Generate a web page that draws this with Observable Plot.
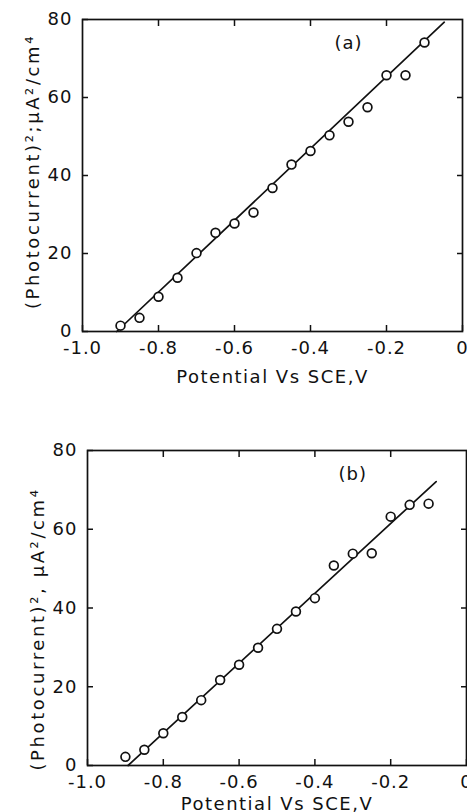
<!DOCTYPE html>
<html><head><meta charset="utf-8">
<script src="https://cdn.jsdelivr.net/npm/d3@7"></script>
<script src="https://cdn.jsdelivr.net/npm/@observablehq/plot@0.6"></script>
<style>
body{margin:0;background:#fff}
#c{width:467px;overflow:hidden}
#c svg{display:block}
</style>
</head><body><div id="c"></div>
<script>
// Panel (a)
const potentialA = [-0.9,-0.85,-0.8,-0.75,-0.7,-0.65,-0.6,-0.55,-0.5,-0.45,-0.4,-0.35,-0.3,-0.25,-0.2,-0.15,-0.1];
const photoA     = [1.5,3.5,8.9,13.8,20.1,25.3,27.7,30.5,36.8,42.8,46.3,50.3,53.8,57.5,65.7,65.7,74.1];
const fitAx = [-0.91,-0.048];
const fitAy = [0,79.3];
// Panel (b)
const potentialB = [-0.9,-0.85,-0.8,-0.75,-0.7,-0.65,-0.6,-0.55,-0.5,-0.45,-0.4,-0.35,-0.3,-0.25,-0.2,-0.15,-0.1];
const photoB     = [2.2,4.0,8.2,12.3,16.6,21.7,25.6,29.9,34.7,39.1,42.5,50.8,53.8,53.9,63.2,66.2,66.5];
const fitBx = [-0.893,-0.08];
const fitBy = [0,72.1];

const xTicks = [-1.0,-0.8,-0.6,-0.4,-0.2,0];
const xInner = [-0.8,-0.6,-0.4,-0.2];
const yTicks = [0,20,40,60,80];
const yInner = [20,40,60];
const xTitle = "Potential Vs SCE,V";
const yTitleA = "(Photocurrent)²;µA²/cm⁴";
const yTitleB = "(Photocurrent)², µA²/cm⁴";
const tagA = "(a)", tagB = "(b)";

const fmtX = d => d === 0 ? "0" : d.toFixed(1);
const blank = () => "";

function panel({xs, ys, fx, fy, yTitle, tag, height, mt, mb, ml, mr, ytdy, xtdy}) {
  const pts = xs.map((x, i) => ({x, y: ys[i]}));
  const fit = fx.map((x, i) => ({x, y: fy[i]}));
  const svg = Plot.plot({
    width: 467, height,
    marginTop: mt, marginBottom: mb, marginLeft: ml, marginRight: mr,
    style: {fontFamily: "DejaVu Sans", fontSize: "18px", color: "#111", background: "#fff", letterSpacing: "1px"},
    x: {domain: [-1, 0]},
    y: {domain: [0, 80]},
    marks: [
      Plot.frame({stroke: "#111", strokeWidth: 1.7}),
      Plot.axisX({ticks: xTicks, tickFormat: fmtX, tickSize: -6, tickPadding: 16, strokeWidth: 1.5, fontSize: 18, label: null}),
      Plot.axisX({anchor: "top", ticks: xInner, tickFormat: blank, tickSize: -6, strokeWidth: 1.5, label: null}),
      Plot.axisY({ticks: yTicks, tickFormat: d => String(d), tickSize: -6, tickPadding: 16, strokeWidth: 1.5, fontSize: 18, label: null}),
      Plot.axisY({anchor: "right", ticks: yInner, tickFormat: blank, tickSize: -6, strokeWidth: 1.5, label: null}),
      Plot.line(fit, {x: "x", y: "y", stroke: "#111", strokeWidth: 1.7}),
      Plot.dot(pts, {x: "x", y: "y", r: 4.4, stroke: "#111", strokeWidth: 1.7, fill: "#fff"}),
      Plot.text([tag], {x: -0.3, y: 74, text: d => d, fontSize: 18, fill: "#111"}),
      Plot.text([xTitle], {frameAnchor: "bottom", dy: xtdy, text: d => d, fontSize: 18, fill: "#111"}),
      Plot.text([yTitle], {frameAnchor: "left", textAnchor: "middle", dx: -49, dy: ytdy, rotate: -90, text: d => d, fontSize: 18, fill: "#111"})
    ]
  });
  d3.select(svg).selectAll("text").filter(function() { return this.textContent === yTitle; })
    .style("letter-spacing", "2.6px");
  d3.select(svg).selectAll("text").filter(function() { return this.textContent === xTitle; })
    .style("letter-spacing", "1.5px");
  return svg;
}

const c = document.getElementById("c");
c.append(panel({xs: potentialA, ys: photoA, fx: fitAx, fy: fitAy, yTitle: yTitleA, tag: tagA,
  height: 400, mt: 19, mb: 69, ml: 82, mr: 5, ytdy: -4, xtdy: 51}));
c.append(panel({xs: potentialB, ys: photoB, fx: fitBx, fy: fitBy, yTitle: yTitleB, tag: tagB,
  height: 412, mt: 50, mb: 47, ml: 87, mr: 1, ytdy: 21, xtdy: 44}));
</script>
</body></html>
